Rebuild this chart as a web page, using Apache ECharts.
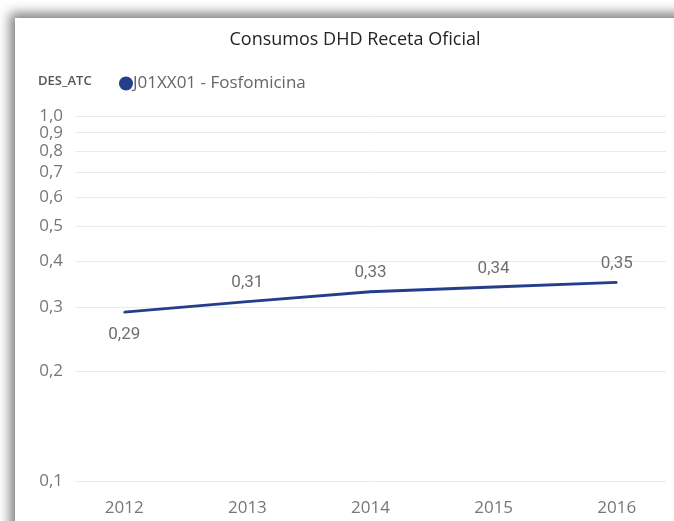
<!DOCTYPE html>
<html>
<head>
<meta charset="utf-8">
<script src="https://cdn.jsdelivr.net/npm/echarts@6/dist/echarts.min.js"></script>
<style>
  html, body { margin: 0; padding: 0; background: #ffffff; overflow: hidden; }
  #panel { position: absolute; left: 15px; top: 18px; width: 720px; height: 540px; background: #fff;
           box-shadow: -5px -5px 11px rgba(0,0,0,0.5); }
  #chart { position: absolute; left: 0; top: 0; width: 674px; height: 521px; }
</style>
</head>
<body>
<div id="panel"></div>
<div id="chart"></div>
<script>
// Annual DHD consumption for fosfomycin (official prescriptions)
const years = [2012, 2013, 2014, 2015, 2016];
const dhd = [0.29, 0.31, 0.33, 0.34, 0.35];
const yTicks = [0.1, 0.2, 0.3, 0.4, 0.5, 0.6, 0.7, 0.8, 0.9, 1.0];
const seriesName = 'J01XX01 - Fosfomicina';
const legendTitle = 'DES_ATC';
const chartTitle = 'Consumos DHD Receta Oficial';
const lineColor = '#243E8C';

const comma = (v, d) => Number(v).toFixed(d).replace('.', ',');

// Two overlaid log axes share the same scale so that the crowded top labels
// (0,9 and 1,0) are both kept instead of one being dropped as an overlap.
const lowerTicks = yTicks.filter(v => v < 1);
const upperTicks = yTicks.filter(v => v >= 1);
const logAxis = ticks => ({
  type: 'log', logBase: 10, min: 0.1, max: 1, position: 'left', offset: 0,
  axisLine: { show: false },
  axisTick: { show: false, customValues: ticks },
  splitLine: { show: true, lineStyle: { color: '#ebebeb', width: 1 } },
  axisLabel: {
    customValues: ticks, margin: 12, showMinLabel: true, showMaxLabel: true,
    formatter: v => comma(v, 1),
    fontFamily: 'Open Sans', fontSize: 17, color: '#777'
  }
});

const chart = echarts.init(document.getElementById('chart'), null, { renderer: 'canvas' });
chart.setOption({
  backgroundColor: 'transparent',
  animation: false,
  title: {
    text: chartTitle,
    left: 350, top: 26, textAlign: 'center',
    textStyle: { fontFamily: 'Open Sans', fontSize: 18, fontWeight: 'normal', color: '#252423' }
  },
  graphic: [{
    type: 'text', left: 38, top: 75,
    style: { text: legendTitle, fontFamily: 'Open Sans', fontSize: 13, fontWeight: 600, fill: '#555' }
  }],
  legend: {
    left: 114, top: 70,
    icon: 'circle', itemWidth: 14, itemHeight: 14,
    itemStyle: { color: lineColor, opacity: 1 },
    textStyle: { fontFamily: 'Open Sans', fontSize: 17, color: '#666', padding: [0, 0, 0, -5] },
    data: [seriesName]
  },
  grid: { left: 75, right: 8, top: 116, bottom: 40, containLabel: false, outerBoundsMode: 'none' },
  xAxis: {
    type: 'value', min: 2011.6, max: 2016.4,
    axisLine: { show: false }, axisTick: { show: false }, splitLine: { show: false },
    axisLabel: {
      customValues: years, margin: 19,
      formatter: v => String(Math.round(v)),
      fontFamily: 'Open Sans', fontSize: 17, color: '#777'
    }
  },
  yAxis: [logAxis(lowerTicks), logAxis(upperTicks)],
  series: [{
    name: seriesName, type: 'line', yAxisIndex: 0,
    data: years.map((y, i) => ({
      value: [y, dhd[i]],
      label: i === 0 ? { position: 'bottom', distance: 13 } : { position: 'top', distance: 9 }
    })),
    symbol: 'circle', symbolSize: 2, showSymbol: true,
    lineStyle: { color: lineColor, width: 2.8 },
    itemStyle: { color: lineColor },
    label: {
      show: true,
      formatter: p => comma(p.value[1], 2),
      fontFamily: 'Roboto', fontSize: 17, color: '#6f6f6f'
    },
    labelLayout: { hideOverlap: false }
  }]
});
</script>
</body>
</html>
